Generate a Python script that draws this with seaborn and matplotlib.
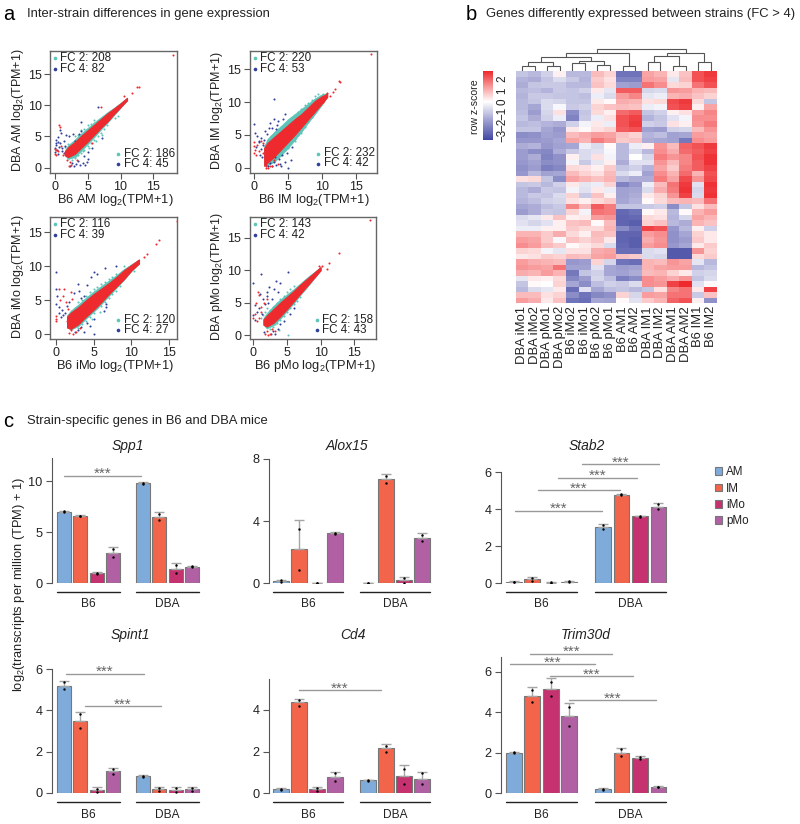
import numpy as np
import pandas as pd
import matplotlib
matplotlib.use('Agg')
import matplotlib.pyplot as plt
import seaborn as sns
from matplotlib.colors import LinearSegmentedColormap
from matplotlib.patches import Patch

# scatter panels: red cloud outline, teal halo outline + teal / navy / red points
env_x_am = [1.5, 2, 3, 4, 5, 6, 7, 8, 9, 10, 11]
env_lo_am = [2.0, 1.7, 2.2, 3.2, 4.2, 5.3, 6.4, 7.4, 8.6, 9.7, 10.8]
env_hi_am = [2.6, 3.3, 4.1, 5.1, 6.0, 6.9, 7.8, 8.7, 9.5, 10.3, 11.2]
halo_lo_am = [2.0, 1.4, 1.7, 2.7, 3.8, 4.9, 6.1, 7.2, 8.4, 9.6, 10.8]
halo_hi_am = [2.8, 3.6, 4.5, 5.5, 6.4, 7.3, 8.1, 8.9, 9.6, 10.4, 11.2]
teal_x_am = [3, 3.5, 4, 4.5, 5, 5.5, 6, 6.5, 7, 7.5, 8, 9.6, 3, 3.5, 4, 4.5, 5, 5.5, 6, 2, 1.5, 2.6, 3.2, 4.3, 5.2, 6.2, 7.2, 2.4, 9.2]
teal_y_am = [1.6, 2.0, 2.4, 2.9, 3.5, 4, 4.5, 5, 5.6, 6.2, 6.8, 8.3, 5, 5.3, 6, 6.2, 6.8, 7, 7.6, 3.8, 3.3, 1.3, 1.9, 2.7, 3.2, 4.2, 5.2, 1.7, 8.0]
navy_x_am = [0, 0, 0.1, 0.1, 0.3, 0.5, 0.6, 0.8, 1, 1.1, 1.3, 1.5, 0.4, 1.7, 0.7, 0.9, 2.2, 2.8, 3.1, 3.6, 4, 4, 2.3, 2.6, 2.9, 3.2, 3.5, 3.8, 4.2, 4.6, 4.9, 5, 4.5, 5.6, 5.1, 6.6, 7.2, 0.2, 0.5, 1.4]
navy_y_am = [2.5, 3.1, 3.6, 4.4, 2.8, 2.2, 3.3, 4, 2.7, 3.2, 4.3, 3.4, 4.9, 5.3, 6.1, 5.6, 5, 5.4, 4.2, 5.4, 7.3, 5.9, 0.3, 0.8, 0.2, 0.6, 1.1, 0.4, 0.8, 0.5, 0.9, 1.4, 1.9, 3.1, 2.5, 9.7, 4.8, 3.9, 4.1, 2.3]
red_x_am = [18, 12.5, 12.8, 11.7, 0.6, 0.8, 0, 0, 0.2, 0.4, 7, 2.5, 2.3, 1.9, 5.7, 1.2, 1.6, 0.9, 0.1, 10.6, 2.1, 3.4]
red_y_am = [18.1, 12.9, 12.9, 12.0, 6.9, 6.5, 3, 2.2, 2.1, 2.6, 9.7, 0.5, 0.9, 1.2, 4, 2.1, 2.4, 3.5, 2.9, 11.5, 0.2, 1.3]

env_x_im = [1.5, 2, 3, 4, 5, 6, 7, 8, 9, 10, 10.8]
env_lo_im = [0.3, 0.8, 1.7, 2.8, 3.9, 5.0, 6.2, 7.4, 8.6, 9.8, 10.8]
env_hi_im = [3.0, 3.8, 4.7, 5.6, 6.5, 7.4, 8.2, 9.2, 10.2, 10.9, 11.3]
halo_lo_im = [0.3, 0.4, 0.9, 1.9, 3.0, 4.2, 5.5, 6.9, 8.2, 9.6, 10.8]
halo_hi_im = [3.3, 4.4, 5.5, 6.4, 7.4, 8.2, 9.0, 9.8, 10.6, 11.2, 11.4]
teal_x_im = [2, 2.5, 3, 3.5, 4, 4.5, 5, 5.5, 6, 6.5, 7, 7.5, 8, 2, 2.5, 3, 3.5, 4, 4.5, 5, 5.5, 6, 6.5, 7, 7.5, 8, 8.5, 9, 9.5, 3, 4, 5, 6, 7, 3.5, 4.5, 5.5, 6.5, 8.6, 10.2]
teal_y_im = [0.3, 0.9, 1.2, 1.7, 2.2, 2.7, 3.2, 3.8, 4.4, 5, 5.6, 6.2, 7, 4.3, 4.8, 5.2, 5.7, 6.2, 6.6, 7.1, 7.6, 8.1, 8.5, 9, 9.5, 9.9, 10.3, 10.9, 11.2, 1, 2, 3, 4.1, 5.3, 5.6, 6.4, 7.3, 8.3, 7.8, 11.3]
navy_x_im = [0, 0.2, 0.5, 0.8, 1.1, 1.3, 1.6, 1, 0.9, 1.5, 1.9, 2.4, 2.7, 3, 3.2, 3.6, 2.9, 4.6, 3.4, 2, 2.3, 2.6, 3, 3.3, 3.7, 4, 4.5, 5, 4.2, 5.4, 4.9, 5.6, 1.2, 0.3, 0.7, 1.8, 2.2, 4.3, 3.1, 3.9]
navy_y_im = [6.6, 5.3, 4.8, 3.9, 4.6, 3.5, 5.6, 2.8, 2, 4.2, 5.1, 6.9, 6.1, 7.5, 5.9, 7.1, 10.5, 8.2, 6.5, 0.3, 0.7, 0.2, 0.9, 0.4, 1.3, 0.2, 0.8, 0, 1.9, 1.2, 2.2, 3.1, 1.6, 3.2, 4.1, 2.7, 6.1, 7.5, 1.7, 0.6]
red_x_im = [17.2, 12.5, 12.7, 11.6, 12.0, 11.2, 0, 0, 0, 0.1, 0.3, 0.5, 0.7, 1, 1.4, 1.7, 1.7, 1.7, 1.8, 1.8, 2, 2.3, 2.7, 3, 3.5, 10.7, 10.2, 1.3]
red_y_im = [17.4, 13.2, 13.1, 11.6, 12.0, 11.0, 3.9, 3.3, 2.2, 2.7, 1.9, 3.4, 2.6, 4.1, 2.3, 0, 0.4, 0.8, 0.2, 1.2, 0, 0.3, 0.2, 1.1, 0.6, 11.4, 10.1, 3.7]

env_x_imo = [1.5, 2, 3, 4, 5, 6, 7, 8, 9, 10, 11]
env_lo_imo = [1.0, 0.8, 1.5, 2.6, 3.6, 4.7, 5.9, 7.0, 8.1, 9.4, 10.4]
env_hi_imo = [2.6, 3.2, 4.0, 5.0, 5.9, 6.7, 7.5, 8.4, 9.4, 10.2, 11.0]
halo_lo_imo = [1.0, 0.7, 1.2, 2.3, 3.3, 4.4, 5.6, 6.8, 8.0, 9.3, 10.4]
halo_hi_imo = [2.8, 3.5, 4.4, 5.4, 6.3, 7.1, 7.9, 8.7, 9.6, 10.3, 11.0]
teal_x_imo = [3, 3.5, 4, 4.5, 5, 5.5, 6, 6.5, 7, 7.5, 8, 8.5, 3, 3.5, 4, 4.5, 5, 5.5, 6, 6.5, 7, 7.5, 8, 2.5, 2.2, 9, 10.4, 4.8, 5.8]
teal_y_imo = [1, 1.5, 2, 2.5, 3.1, 3.9, 4.1, 4.8, 5.3, 5.9, 6.4, 7.1, 4.7, 5, 5.6, 6.2, 6.6, 7, 7.4, 7.7, 8.1, 8.5, 8.9, 3.8, 3.3, 10.1, 9.3, 2.2, 3.3]
navy_x_imo = [0, 0, 0, 0.2, 0.5, 0.8, 1, 1.2, 1.5, 1.8, 2.4, 2.9, 3.1, 3.3, 4.7, 5.1, 6.5, 7.9, 2.5, 3, 3.4, 3.8, 4.1, 4.5, 5, 5.1, 6.4, 6.7, 6.6, 4.2, 3.7, 0.7, 0.4, 5.5]
navy_y_imo = [9.2, 6.7, 4.4, 5.6, 3.2, 3.6, 2.8, 3.1, 4.2, 4.8, 6.1, 7.4, 6.4, 5.3, 8.4, 9.1, 9.8, 10, 0.3, 0.6, 1.1, 0.3, 1.7, 1.2, 0, 2.2, 3.5, 4, 4.5, 7.2, 5.6, 2.6, 4, 8.9]
red_x_imo = [16, 13.7, 13.3, 12.0, 11.7, 0, 0, 0, 0.4, 0.6, 0.9, 1.1, 1.6, 1.8, 2, 2.3, 2.7, 3.2, 2, 1.4, 2.2, 1.5, 10.9]
red_y_imo = [16.7, 13.8, 13.3, 11.8, 11.4, 2.7, 2.2, 1.9, 6.7, 5.1, 5.6, 6.7, 3.7, 0.2, 0.6, 0.1, 0.3, 1, 6.2, 4.8, 5.2, 2, 10.8]

env_x_pmo = [1.5, 2, 3, 4, 5, 6, 7, 8, 9, 10]
env_lo_pmo = [1.6, 1.3, 1.9, 2.9, 4.0, 5.2, 6.4, 7.6, 8.8, 10.0]
env_hi_pmo = [2.4, 3.0, 4.0, 5.0, 5.9, 6.8, 7.8, 8.7, 9.6, 10.5]
halo_lo_pmo = [1.6, 1.0, 1.5, 2.5, 3.7, 4.9, 6.2, 7.4, 8.7, 10.0]
halo_hi_pmo = [2.6, 3.4, 4.5, 5.5, 6.3, 7.1, 8.0, 8.9, 9.7, 10.5]
teal_x_pmo = [2.5, 3, 3.5, 4, 4.5, 5, 5.5, 6, 6.5, 7, 2.5, 3, 3.5, 4, 4.5, 5, 5.5, 6, 1.5, 1.2, 1.8, 2, 5.2, 3.2, 3.8, 2.7]
teal_y_pmo = [1, 1.3, 1.8, 2.3, 3, 3.5, 4.1, 4.8, 5.3, 5.8, 3.8, 4.4, 5, 5.6, 6.1, 6.6, 7.1, 7.6, 3.1, 2.7, 3.5, 4.1, 0, 1.7, 0.8, 2.9]
navy_x_pmo = [0, 0, 0.2, 0.5, 0.8, 1.1, 1.4, 1.7, 2.1, 2.4, 2.8, 3.3, 3.7, 3.9, 5.2, 1, 1.3, 2.2, 2.6, 3, 3.2, 3.6, 4, 4.6, 5.4, 6, 1.6, 0.3, 3.1, 2]
navy_y_pmo = [8, 3.1, 4.6, 3.6, 4.1, 9.4, 5.5, 4.8, 6.1, 7.4, 5.5, 8.3, 6.6, 8, 9.8, 6.4, 3.2, 5, 0.2, 0.6, 0.1, 0.9, 1.7, 2.2, 3.3, 4.1, 0.5, 2.3, 7.1, 6.6]
red_x_pmo = [17.3, 12.7, 11.2, 10.9, 10.2, 0.7, 0.9, 0.4, 0.3, 0, 0.5, 0.9, 1.2, 1.6, 1.8, 2, 2.2, 2.5, 2.8, 3.2, 2, 1.1, 9.8, 9.2]
red_y_pmo = [17.7, 12.7, 11.1, 10.2, 10.7, 6.7, 6.2, 4.9, 3.2, 2.7, 2.1, 2.6, 4.3, 4.9, 0.2, 0.6, 0, 0.2, 1, 0.6, 5.5, 3.6, 10.6, 9.4]

heat_columns = ['DBA iMo1', 'DBA iMo2', 'DBA pMo1', 'DBA pMo2', 'B6 iMo2', 'B6 iMo1', 'B6 pMo2', 'B6 pMo1',
                'B6 AM1', 'B6 AM2', 'DBA IM1', 'DBA IM2', 'DBA AM1', 'DBA AM2', 'B6 IM1', 'B6 IM2']
heat_rows = [
    [-1, -1.2, -.8, .2, -1.2, -1.2, .9, .6, -2.5, -2.5, 1.2, 1, .3, .8, 2.2, 2.5],
    [-1.3, -1.4, -1, -.6, -.9, -1.3, .7, .4, -2.2, -2.2, 1.3, 1.2, -.4, .9, 2.2, 2.4],
    [-1.4, -1, -.9, -.9, -1.2, -1.2, .8, .5, -1.6, -1.7, 1.8, 1.5, .5, .6, 1.8, 2.2],
    [-1.2, -1.1, -1.3, -.9, -1, -.8, .3, -.4, 2.1, 2.1, -.7, -.6, 1.4, 1.3, 1, .9],
    [-1.3, -.9, -.9, -1, -1, -1.1, -.3, -.6, 1.3, 1.6, -.4, -.3, 1, 1.1, .8, .6],
    [-1.2, -1, -.6, -.7, -1, -1, .3, .1, 1.1, 1, .4, .5, 2.3, 2.5, .5, -1],
    [-1.2, -1.5, -.6, -.1, -.9, -.8, .6, .8, .9, .8, -.3, -.2, 2.2, 2.4, .2, 1.2],
    [-1.1, -1.7, -.7, .4, -2, -1, .5, .2, 1.9, 2.1, -1, -.8, .2, .4, 1.3, 1.6],
    [-1, -1.4, -.8, -.3, -2.2, -.9, -.3, .4, 2.2, 2.4, -1.3, -1, -.5, -.2, 1.5, 1.5],
    [-1.2, -1.1, -1.3, -1.4, -.8, -.2, .3, -.3, 2.2, 2.5, -.8, -.9, .4, .2, 1.4, 1.7],
    [-1, -1, -1.5, -1.8, .3, .1, .4, .6, 2.1, 2.2, -1.6, -1.7, -.8, -.7, .9, 1.4],
    [-2, -1.9, -1.6, -1.7, .9, 1.1, 1.3, 1.2, .8, .6, -1.3, -1.1, -1.6, -1.5, 1.3, 1.2],
    [-1.8, -1.8, -1.7, -1.5, 1.2, 1, 1.7, 1.4, .7, .8, -1.4, -1.5, -1.6, -2.4, 1.5, 1.3],
    [-1.4, -1.3, -1.8, -1.6, -1.5, -.3, -.6, .1, -1.2, -.3, .2, 1.4, .9, 2, 2.2, 2.5],
    [-1.7, -2, -2.1, -1.4, -.9, -.6, -.5, -.1, -1.2, -.6, -1.2, 1.5, 1.1, 1.9, 2.1, 2.4],
    [-1.7, -1.4, -2.2, -1.9, .2, -.6, .4, -.2, -1.2, 0, -.7, 1.7, 1.4, 1.6, 2.2, 2.6],
    [-1.8, -1.6, -2, -1.9, -.2, -.9, -.4, .2, -1.4, -.5, -.5, 1.4, .9, 1.6, 2.1, 2.6],
    [-1.9, -1.7, -2.3, -2.1, .5, .4, .2, .7, -1, -.8, -1.3, 1.2, .7, 1.7, 2.1, 2.4],
    [-1.8, -1.2, -1.6, -1.5, .9, .6, .4, .9, -.6, -.3, -1.6, 1.5, 1, 1.9, 1, 2.2],
    [.4, .5, -1, -2, 1.2, 1, .8, 1, -1.2, -1.4, -1.4, 1.7, 1.2, 2.3, 1.4, 2.3],
    [-1, -.9, -1.2, -.8, .3, -.4, -.3, .6, -2.2, -1.8, -.3, .9, 1.8, 2.5, -.5, 2.6],
    [-1.2, -1.4, -.9, -1, -.2, -.5, .3, -.3, -1.6, -1.5, -.6, 1.1, 1.7, 2.6, -.7, 2.5],
    [-1.2, -.9, -1, -.6, .6, -.9, .8, .2, -1.6, -1.4, .3, .6, 1.4, 2.4, -.6, 2.6],
    [-1.3, -1.1, -.8, -.7, .4, .2, .5, .7, -1.5, -1.3, .1, .5, .9, 1, .9, 1.8],
    [-1.5, -1.4, -1.1, -.9, 1.6, .9, 2.1, 1.7, -1, -1, -.9, -.8, -2, -1, .4, .9],
    [-1.7, -1.4, -.9, -1, .6, -.2, 1.8, 1.7, -2.7, -2.5, .1, .3, -1.2, .1, 1, 1.3],
    [-.6, -.4, .3, .8, .2, .3, 1.3, 1.4, -2.8, -2.7, .5, .4, -1.3, -.7, 1.2, 1],
    [-.5, -.7, -.5, .2, .8, .9, .1, .9, -2.8, -2.9, .6, .8, -1.2, -1.4, 1, .8],
    [-.3, -.3, .2, .2, .7, .5, .5, 1, -2, -2.5, 2.4, 2.2, -1.8, -1.2, .2, -.8],
    [1, 1, .7, 1.1, .5, .2, .9, .8, -2.8, -2.8, 1.3, 1.5, -1.9, -1.5, .6, .3],
    [1.3, 1.2, .7, -.1, .8, .6, .8, .3, -2.8, -2.9, 1.1, 1.4, -1.9, -1.7, .7, .3],
    [1.5, 1.3, .9, .7, .1, .3, .5, -.6, -2.7, -2.9, 1.3, 1.5, -1.8, -1.5, .3, .7],
    [.6, .5, -.2, -.4, .4, .4, 1.1, 1.2, -2.6, -2.6, -.6, -.5, -3, -3, 1.4, .6],
    [.3, .4, .7, .6, .9, .8, 1.2, 1.3, .8, .7, -.6, -.7, -3, -3, .5, .7],
    [1.3, 1.1, 1, .9, -1.8, -1.7, .6, -.7, -2.5, -2.6, 1, .9, 1.4, 1.2, -.4, -1.2],
    [1.4, 1.3, 1.2, 1.8, -1.6, -1.6, -.5, -1.5, -1.7, -1.6, 1, 1.2, 1.3, 1.3, -1.2, -1],
    [1.1, 1, 1.3, 1, -2.4, -1, -.8, -1.5, -1.6, -1.4, .9, 1, .6, .3, -.8, -.7],
    [-.4, .3, .2, .5, -2.1, -1.7, -.7, -1.1, -2.3, -2, 1.5, 1.3, 1.1, 1.4, -1, -.6],
    [-1, .1, 0, .6, -1.5, -2, -1.1, -.8, -.9, -.6, 1.5, 1.4, 2.4, 2.7, -.5, .1],
    [-1.2, -.6, -.4, .3, -2.6, -.5, -1.5, -1.1, -1, -1.2, -1, .4, 1.6, 1.8, .3, 2.4],
    [.9, .9, .4, .6, -2, -2.5, -2.1, -1.9, .6, -.7, 1.3, 1.2, 1.8, 1.8, -.9, .8],
    [1.3, 1.1, .3, .8, -2.5, -2.6, -1.5, -1.6, .1, -.5, .7, 1, 2, 2.2, .2, -1.9],
]
# x_left, x_right, h_left, h_right, h_top
dendro_merges = [
    (.5, 1.5, 0, 0, 5.3), (2.5, 3.5, 0, 0, 5.3), (1, 3, 5.3, 5.3, 9.3), (4.5, 5.5, 0, 0, 7.7),
    (6.5, 7.5, 0, 0, 6), (5, 7, 7.7, 6, 10.3), (2, 6, 9.3, 10.3, 14.3), (8.5, 9.5, 0, 0, 4.7),
    (4, 9, 14.3, 4.7, 17.7), (10.5, 11.5, 0, 0, 9), (12.5, 13.5, 0, 0, 5.3), (11, 13, 9, 5.3, 15),
    (14.5, 15.5, 0, 0, 9), (12, 15, 15, 9, 17.7), (6.5, 13.5, 17.7, 17.7, 21.7),
]

# bar panels
cells = ['AM', 'IM', 'iMo', 'pMo']
spp1_mean = [7.0, 6.6, 1.0, 3.0, 9.8, 6.5, 1.4, 1.6]
spp1_top = [7.1, 6.7, 1.1, 3.55, 9.9, 6.95, 1.95, 1.7]
spp1_dots = [7.0, 7.05, 6.55, 6.6, .9, 1.0, 2.6, 3.4, 9.7, 9.8, 6.2, 6.8, 1.05, 1.8, 1.6, 1.65]
alox15_mean = [.15, 2.2, .03, 3.2, .03, 6.7, .19, 2.93]
alox15_top = [.2, 4.06, .05, 3.27, .05, 7.0, .42, 3.2]
alox15_dots = [.1, .18, .85, 3.5, .03, .04, 3.15, 3.25, .03, .04, 6.45, 6.9, .05, .35, 2.7, 3.1]
stab2_mean = [.08, .22, .04, .09, 3.05, 4.8, 3.62, 4.15]
stab2_top = [.1, .33, .05, .12, 3.2, 4.85, 3.65, 4.35]
stab2_dots = [.07, .09, .14, .3, .03, .05, .07, .1, 2.95, 3.15, 4.77, 4.82, 3.61, 3.63, 4.0, 4.28]
spint1_mean = [5.2, 3.5, .13, 1.03, .82, .17, .13, .17]
spint1_top = [5.42, 3.92, .27, 1.2, .85, .27, .3, .3]
spint1_dots = [5.05, 5.35, 3.15, 3.8, .05, .2, .9, 1.15, .78, .82, .1, .22, .05, .22, .1, .22]
cd4_mean = [.18, 4.38, .17, .78, .63, 2.15, .8, .68]
cd4_top = [.23, 4.55, .27, 1.03, .65, 2.35, 1.33, 1.02]
cd4_dots = [.13, .2, 4.2, 4.5, .1, .22, .6, .95, .58, .62, 2.0, 2.25, .43, 1.17, .43, .95]
trim30d_mean = [2.0, 4.8, 5.17, 3.8, .18, 2.0, 1.75, .3]
trim30d_top = [2.05, 5.25, 5.68, 4.47, .25, 2.25, 1.82, .35]
trim30d_dots = [1.98, 2.03, 4.5, 5.1, 4.8, 5.5, 3.3, 4.25, .15, .2, 1.83, 2.17, 1.7, 1.78, .3, .31]
# significance lines: x_start, x_end, height
spp1_sig = [(.03, 4.71, 10.55)]
alox15_sig = []
stab2_sig = [(.06, 4.77, 3.92), (1.31, 5.74, 5.04), (2.37, 6.68, 5.71), (3.7, 7.83, 6.44)]
spint1_sig = [(.13, 4.87, 5.78), (1.29, 5.91, 4.19)]
cd4_sig = [(1.02, 5.54, 4.95)]
trim30d_sig = [(-.22, 4.39, 6.39), (.88, 5.32, 6.9), (1.96, 6.44, 5.78), (2.97, 7.67, 4.59)]

W, H = 800, 824
cell_colors = ['#7fabdb', '#f2654a', '#c6326f', '#b060a3']
teal = '#5cc4b8'
navy = '#2f3f9a'
red = '#ee2a2e'
txt = '#222222'

sns.set_style('white')
plt.rcParams['font.family'] = ['Liberation Sans', 'DejaVu Sans']
plt.rcParams['mathtext.default'] = 'regular'
plt.rcParams['axes.unicode_minus'] = False

fig = plt.figure(figsize=(W / 100, H / 100), dpi=100)


def px_axes(left, top, right, bottom):
    return fig.add_axes([left / W, 1 - bottom / H, (right - left) / W, (bottom - top) / H])


def px_text(x, y, s, **kw):
    kw.setdefault('color', txt)
    kw.setdefault('va', 'center')
    return fig.text(x / W, 1 - y / H, s, **kw)


def draw_scatter(box, x0px, sx, y0px, sy, env, halo, teal_pts, navy_pts, red_pts, xlab, ylab, counts, lab_cx, ylab_x):
    left, top, right, bottom = box
    ax = px_axes(left, top, right, bottom)
    ax.fill_between(env[0], halo[0], halo[1], color=teal, lw=0.5, zorder=2)
    ax.fill_between(env[0], env[1], env[2], color=red, lw=0.8, zorder=3)
    sns.scatterplot(x=teal_pts[0], y=teal_pts[1], color=teal, s=2.2, linewidth=0, ax=ax, zorder=2)
    sns.scatterplot(x=navy_pts[0], y=navy_pts[1], color=navy, s=2.2, linewidth=0, ax=ax, zorder=2)
    sns.scatterplot(x=red_pts[0], y=red_pts[1], color=red, s=2.2, linewidth=0, ax=ax, zorder=3)
    ax.set_xlim((left - x0px) / sx, (right - x0px) / sx)
    ax.set_ylim((y0px - bottom) / sy, (y0px - top) / sy)
    ax.set_xticks([0, 5, 10, 15])
    ax.set_yticks([0, 5, 10, 15])
    ax.tick_params(length=4, width=0.8, color='#555555', labelsize=9, labelcolor=txt, pad=2, bottom=True, left=True)
    for sp in ax.spines.values():
        sp.set_color('#666666')
        sp.set_linewidth(1.0)
    px_text(lab_cx, bottom + 27, xlab, ha='center', fontsize=9.3)
    px_text(ylab_x, (top + bottom) / 2 - 1.5, ylab, ha='center', rotation=90, fontsize=9)
    # count labels in the corners
    rows = [(top + 7, top + 18, left + 5, left + 10), (bottom - 19, bottom - 9, right - 59, right - 53)]
    for (y1, y2, dx, tx), (a, b) in zip(rows, counts):
        fig.add_artist(plt.Line2D([dx / W], [1 - y1 / H], marker='o', ms=2.6, color=teal, mew=0))
        fig.add_artist(plt.Line2D([dx / W], [1 - y2 / H], marker='o', ms=2.6, color=navy, mew=0))
        px_text(tx, y1, 'FC 2: %d' % a, fontsize=8.4)
        px_text(tx, y2, 'FC 4: %d' % b, fontsize=8.4)


draw_scatter((50, 51, 177, 173), 55, 6.55, 167.7, 6.24,
             (env_x_am, env_lo_am, env_hi_am), (halo_lo_am, halo_hi_am), (teal_x_am, teal_y_am), (navy_x_am, navy_y_am), (red_x_am, red_y_am),
             'B6 AM log$_2$(TPM+1)', 'DBA AM log$_2$(TPM+1)', [(208, 82), (186, 45)], 115, 18)
draw_scatter((249.5, 51, 376.5, 172.5), 254, 6.78, 167.7, 6.55,
             (env_x_im, env_lo_im, env_hi_im), (halo_lo_im, halo_hi_im), (teal_x_im, teal_y_im), (navy_x_im, navy_y_im), (red_x_im, red_y_im),
             'B6 IM log$_2$(TPM+1)', 'DBA IM log$_2$(TPM+1)', [(220, 53), (232, 42)], 314, 217)
draw_scatter((50, 217, 177, 339), 55.7, 7.57, 334.3, 6.8,
             (env_x_imo, env_lo_imo, env_hi_imo), (halo_lo_imo, halo_hi_imo), (teal_x_imo, teal_y_imo), (navy_x_imo, navy_y_imo), (red_x_imo, red_y_imo),
             'B6 iMo log$_2$(TPM+1)', 'DBA iMo log$_2$(TPM+1)', [(116, 39), (120, 27)], 115, 18)
draw_scatter((249.5, 217, 375.5, 339), 253.3, 6.73, 335, 6.47,
             (env_x_pmo, env_lo_pmo, env_hi_pmo), (halo_lo_pmo, halo_hi_pmo), (teal_x_pmo, teal_y_pmo), (navy_x_pmo, navy_y_pmo), (red_x_pmo, red_y_pmo),
             'B6 pMo log$_2$(TPM+1)', 'DBA pMo log$_2$(TPM+1)', [(143, 42), (158, 43)], 315, 217)

# heatmap + colorbar + dendrogram
heat_cmap = LinearSegmentedColormap.from_list('zscore', [(0, '#3f46a0'), (.3, '#a3a3d3'), (.56, '#ffffff'), (.8, '#f78f90'), (1, red)])
ax_heat = px_axes(515.7, 71.3, 717, 303.3)
ax_cbar = px_axes(483.3, 71.3, 493.3, 140.3)
sns.heatmap(np.array(heat_rows), ax=ax_heat, cbar_ax=ax_cbar, cmap=heat_cmap, vmin=-3.4, vmax=2.7,
            xticklabels=heat_columns, yticklabels=False)
ax_heat.tick_params(axis='x', length=0, pad=2, labelsize=9.4, labelcolor=txt, rotation=90)
for t in ax_heat.get_xticklabels():
    t.set_va('top')
ax_cbar.set_yticks([-3, -2, -1, 0, 1, 2])
ax_cbar.set_yticklabels(['\u22123', '\u22122', '\u22121', '0', '1', '2'], rotation=90, va='center', fontsize=8.4, color=txt)
ax_cbar.tick_params(length=0, pad=2)
px_text(475, 107, 'row z-score', rotation=90, ha='center', fontsize=7.6)

ax_dend = px_axes(515.7, 48, 717, 71)
for x1, x2, h1, h2, h in dendro_merges:
    ax_dend.plot([x1, x1, x2, x2], [h1, h, h, h2], color='#555555', lw=0.8, solid_joinstyle='miter')
ax_dend.set_xlim(0, 16)
ax_dend.set_ylim(0, 23)
ax_dend.axis('off')


def draw_bars(axis_px, ctr0, s, y0px, sy, ytop_px, mean, top, dots, sig, yticks, title, title_cx, title_y, line_y, lab_y):
    positions = [0, 1, 2, 3, 4.82, 5.82, 6.82, 7.82]
    right_px = axis_px + 10 * s
    ax = px_axes(axis_px, ytop_px, right_px, y0px)
    df = pd.DataFrame({'pos': positions, 'value': mean, 'cell': cells * 2})
    sns.barplot(data=df, x='pos', y='value', hue='cell', palette=cell_colors, native_scale=True, dodge=False,
                width=0.86, saturation=1, edgecolor='#777777', linewidth=0.8, legend=False, ax=ax)
    mean_arr = np.array(mean)
    ax.errorbar(positions, mean_arr, yerr=[np.zeros(8), np.array(top) - mean_arr], fmt='none', ecolor='#a5a5a5',
                elinewidth=1, capsize=3.8, capthick=1, zorder=4)
    sns.scatterplot(x=np.repeat(positions, 2), y=dots, color='black', s=3, linewidth=0, ax=ax, zorder=5)
    for x1, x2, h in sig:
        ax.plot([x1, x2], [h, h], color='#999999', lw=1, clip_on=False)
        ax.text((x1 + x2) / 2, h - 2.5 / sy, '***', ha='center', va='baseline', fontsize=11, color='#666666', clip_on=False)
    xmin = -(ctr0 - axis_px) / s
    ax.set_xlim(xmin, xmin + (right_px - axis_px) / s)
    ax.set_ylim(0, (y0px - ytop_px) / sy)
    ax.set_xticks([])
    ax.set_yticks(yticks)
    ax.set_xlabel('')
    ax.set_ylabel('')
    ax.tick_params(axis='y', left=True, length=4, width=0.8, color='#555555', labelsize=9.2, labelcolor=txt, pad=3)
    sns.despine(ax=ax, bottom=True)
    ax.spines['left'].set_color('#555555')
    ax.spines['left'].set_linewidth(0.8)
    ax.patch.set_alpha(0)
    for a, b, name in [(-.43, 3.43, 'B6'), (4.39, 8.25, 'DBA')]:
        yy = -(line_y - y0px) / (y0px - ytop_px)
        ax.plot([a, b], [yy, yy], color='#222222', lw=1, transform=ax.get_xaxis_transform(), clip_on=False)
        px_text(axis_px + (((a + b) / 2) - xmin) * s, lab_y, name, ha='center', fontsize=8.6)
    px_text(title_cx, title_y, title, ha='center', style='italic', fontsize=10)


draw_bars(52.3, 63.8, 16.4, 583.3, 10.2, 458.3, spp1_mean, spp1_top, spp1_dots, spp1_sig, [0, 5, 10], 'Spp1', 128, 446, 592.3, 604)
draw_bars(269.3, 281, 18, 583.3, 15.58, 458.7, alox15_mean, alox15_top, alox15_dots, alox15_sig, [0, 4, 8], 'Alox15', 347, 446, 592.3, 604)
draw_bars(501, 513.8, 18.5, 583.3, 18.5, 472.3, stab2_mean, stab2_top, stab2_dots, stab2_sig, [0, 2, 4, 6], 'Stab2', 586.7, 446, 592.3, 604)
draw_bars(52.3, 63.8, 16.4, 792.7, 20.6, 669, spint1_mean, spint1_top, spint1_dots, spint1_sig, [0, 2, 4, 6], 'Spint1', 130, 635, 802, 815.5)
draw_bars(269.3, 281, 18, 793, 20.75, 679, cd4_mean, cd4_top, cd4_dots, cd4_sig, [0, 2, 4], 'Cd4', 352.7, 635, 802, 815.5)
draw_bars(501, 513.8, 18.5, 793, 20.2, 657.3, trim30d_mean, trim30d_top, trim30d_dots, trim30d_sig, [0, 2, 4, 6], 'Trim30d', 586, 635, 802, 815.5)

px_text(19, 584.5, 'log$_2$(transcripts per million (TPM) + 1)', rotation=90, ha='center', fontsize=9.3)

handles = [Patch(facecolor=c, edgecolor='#777777', lw=0.8, label=n) for c, n in zip(cell_colors, cells)]
fig.legend(handles=handles, loc='upper left', bbox_to_anchor=(712.5 / W, 1 - 464 / H), frameon=False, fontsize=8.4,
           handlelength=0.65, handleheight=0.65, handletextpad=0.3, labelspacing=0.36, labelcolor=txt, borderpad=0.2, borderaxespad=0)

# panel headers
px_text(3, 14, 'a', fontsize=14.5, color='black')
px_text(27, 14, 'Inter-strain differences in gene expression', fontsize=9.35)
px_text(466, 14, 'b', fontsize=14.5, color='black')
px_text(486, 14, 'Genes differently expressed between strains (FC > 4)', fontsize=9.38)
px_text(3, 421, 'c', fontsize=14.5, color='black')
px_text(27, 421, 'Strain-specific genes in B6 and DBA mice', fontsize=9.35)

fig.savefig('out.png', dpi=100)
